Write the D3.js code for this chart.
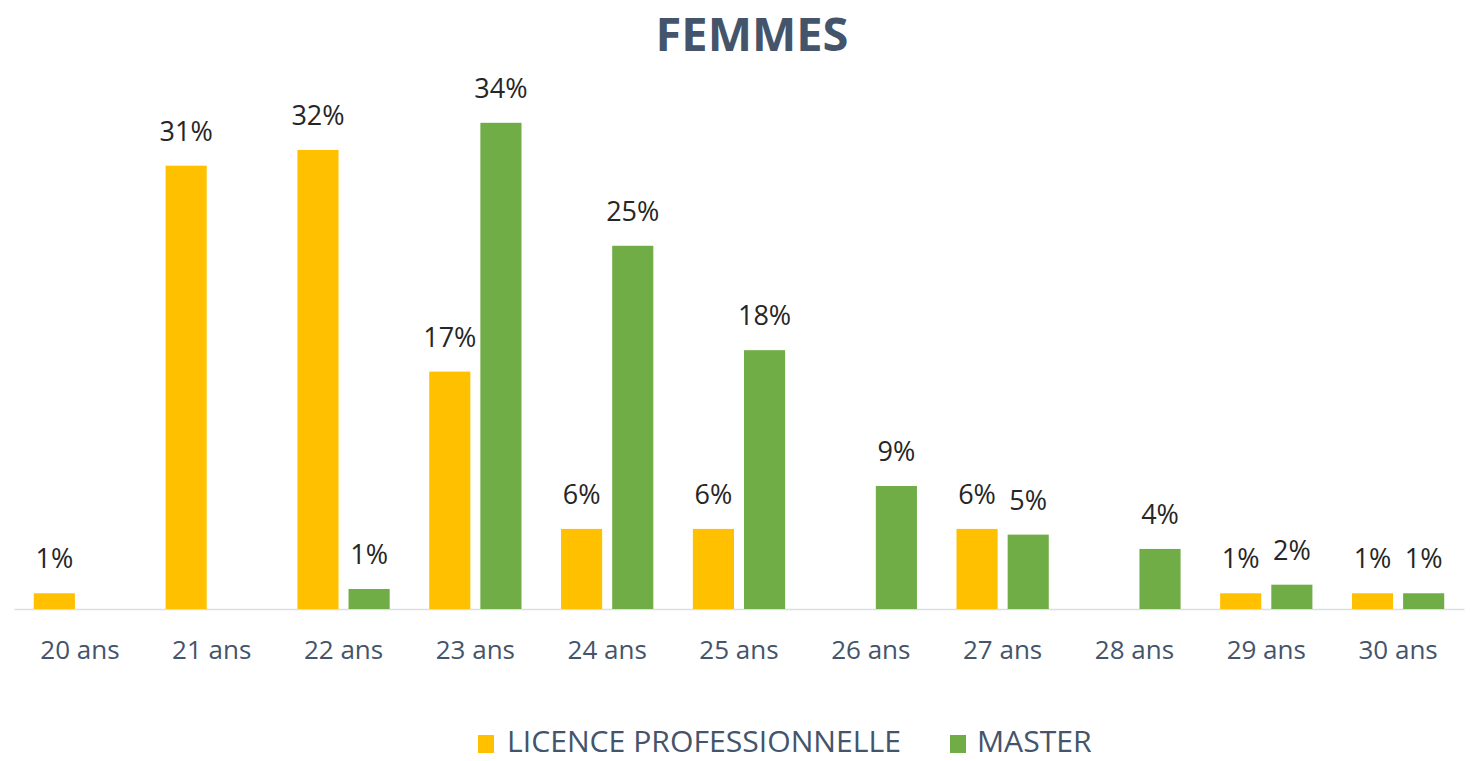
<!DOCTYPE html>
<html>
<head>
<meta charset="utf-8">
<script src="https://cdn.jsdelivr.net/npm/d3@7"></script>
<style>
  html, body { margin: 0; padding: 0; background: #fff; }
  svg { display: block; }
</style>
</head>
<body>
<svg id="chart" width="1470" height="761"></svg>
<script>
const title = "FEMMES";
const categories = ["20 ans","21 ans","22 ans","23 ans","24 ans","25 ans","26 ans","27 ans","28 ans","29 ans","30 ans"];
const seriesNames = ["LICENCE PROFESSIONNELLE", "MASTER"];
const licenceValues = [1.1, 31.0, 32.1, 16.6, 5.6, 5.6, 0, 5.6, 0, 1.1, 1.1];
const masterValues  = [0, 0, 1.4, 34.0, 25.4, 18.1, 8.6, 5.2, 4.2, 1.7, 1.1];
const seriesColors = ["#FFC000", "#70AD47"];

const svg = d3.select("#chart");
const font = "'Open Sans', 'Noto Sans', sans-serif";

const x0 = d3.scaleBand().domain(categories).range([14, 1464]).paddingInner(0.3).paddingOuter(0.15);
const x1 = d3.scaleBand().domain([0, 1]).range([0, x0.bandwidth()]).paddingInner(0.196);
const y = d3.scaleLinear().domain([0, 35]).range([609, 108.5]);

// title
svg.append("text")
  .attr("x", 752).attr("y", 50.5)
  .attr("text-anchor", "middle")
  .attr("font-family", font).attr("font-weight", "bold")
  .attr("font-size", 47).attr("fill", "#44546A")
  .text(title);

// axis line
const xAxis = d3.axisBottom(x0).tickSize(0).tickPadding(0);
const ax = svg.append("g").attr("transform", `translate(0,${y(0)})`).call(xAxis);
ax.select(".domain").attr("stroke", "#D9DDE4").attr("stroke-width", 1.5);
ax.selectAll(".tick text")
  .attr("y", 50).attr("dy", 0)
  .attr("font-family", font).attr("font-size", 26).attr("fill", "#44546A");

const data = categories.map((c, i) => ({cat: c, vals: [licenceValues[i], masterValues[i]]}));

const groups = svg.append("g").selectAll("g").data(data).join("g")
  .attr("transform", d => `translate(${x0(d.cat)},0)`);

groups.selectAll("rect").data(d => d.vals.map((v, k) => ({v, k}))).join("rect")
  .filter(d => d.v > 0)
  .attr("x", d => x1(d.k))
  .attr("width", x1.bandwidth())
  .attr("y", d => y(d.v))
  .attr("height", d => y(0) - y(d.v))
  .attr("fill", d => seriesColors[d.k]);

groups.selectAll("text.lbl").data(d => d.vals.map((v, k) => ({v, k})).filter(e => e.v > 0)).join("text")
  .attr("class", "lbl")
  .attr("x", d => x1(d.k) + x1.bandwidth() / 2)
  .attr("y", d => y(d.v) - 25)
  .attr("text-anchor", "middle")
  .attr("font-family", font).attr("font-size", 27).attr("fill", "#262626")
  .text(d => Math.round(d.v) + "%");

// legend
const legendItems = [
  {name: seriesNames[0], color: seriesColors[0], sx: 478, tx: 507},
  {name: seriesNames[1], color: seriesColors[1], sx: 950, tx: 977}
];
const lg = svg.append("g");
legendItems.forEach(it => {
  lg.append("rect").attr("x", it.sx).attr("y", 735).attr("width", 16).attr("height", 18).attr("fill", it.color);
  lg.append("text").attr("x", it.tx).attr("y", 752.5)
    .attr("font-family", font).attr("font-size", 29).attr("fill", "#44546A")
    .attr("transform", `translate(${it.tx},0) scale(1.04,1) translate(${-it.tx},0)`)
    .text(it.name);
});
</script>
</body>
</html>
